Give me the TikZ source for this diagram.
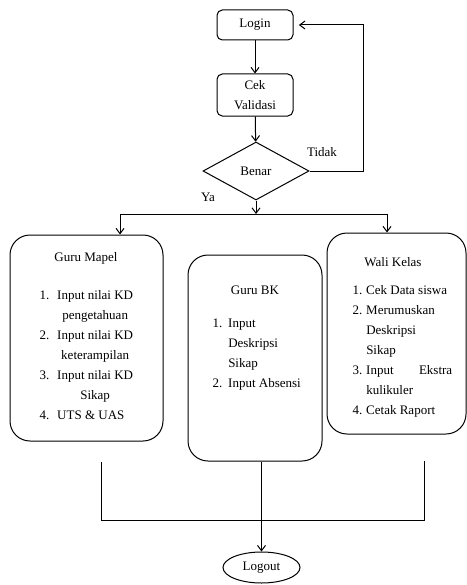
\documentclass[tikz,border=0pt]{standalone}
\usepackage{fontspec}
\setmainfont{Liberation Serif}
\usetikzlibrary{shapes.geometric,arrows.meta}

\tikzset{every picture/.style={line width=0.75pt}}
\tikzset{
  every node/.style={font=\fontsize{9.75}{15}\selectfont},
  flowbox/.style={draw, rounded corners=4pt, minimum width=57pt, minimum height=22.5pt, inner sep=0pt},
  rolebox/.style={draw, rounded corners=15pt, inner sep=0pt},
  listtext/.style={anchor=north west, inner sep=0pt},
  arr/.style={-{Straight Barb[length=4pt,width=6pt]}}
}

\begin{document}
\begin{tikzpicture}[x=0.75pt,y=0.75pt,yscale=-1,xscale=1]
\useasboundingbox (0,0) rectangle (467,585);

%Login and check
\node [flowbox] (login) at (255,25) {Login};
\node [flowbox, minimum height=31.5pt, align=center] (cek) at (255,95) {Cek\\Validasi};
\node [draw, diamond, aspect=1.83, minimum width=79.5pt, minimum height=43.5pt, inner sep=0pt] (benar) at (256,171) {Benar};

% Text Node
\node (tidak) at (322,152) {Tidak};
% Text Node
\node (ya) at (208,197) {Ya};

%Role boxes
\node [rolebox, minimum width=114.75pt, minimum height=154.5pt] (mapel) at (86.5,338) {};
\node [rolebox, minimum width=100.5pt, minimum height=154.5pt] (bk) at (255,358) {};
\node [rolebox, minimum width=104.25pt, minimum height=150.75pt] (wali) at (396.5,333.5) {};

% Text Node
\node (mapel title) at (86,258) {Guru Mapel};
\node [listtext] (mapel list) at (39,285) {\begin{tabular}{@{}l@{\hspace{6pt}}c@{}}
1. & Input nilai KD\\
   & pengetahuan\\
2. & Input nilai KD\\
   & keterampilan\\
3. & Input nilai KD\\
   & Sikap\\
4. & UTS \& UAS\hfill\null
\end{tabular}};

% Text Node
\node (bk title) at (255,290) {Guru BK};
\node [listtext] (bk list) at (212,313) {\begin{tabular}{@{}l@{\hspace{4.5pt}}l@{}}
1. & Input\\
   & Deskripsi\\
   & Sikap\\
2. & Input Absensi
\end{tabular}};

% Text Node
\node (wali title) at (393,262) {Wali Kelas};
\node [listtext] (wali list) at (352,280) {\begin{tabular}{@{}l@{\hspace{3pt}}p{64.5pt}@{}}
1. & Cek Data siswa\\
2. & Merumuskan\\
   & Deskripsi\\
   & Sikap\\
3. & Input \hfill Ekstra\\
   & kulikuler\\
4. & Cetak Raport
\end{tabular}};

%Logout
\node [draw, ellipse, minimum width=57.75pt, minimum height=23.25pt, inner sep=0pt] (logout) at (261.5,567.5) {Logout};

\coordinate (loop) at (363,171);
\coordinate (split) at (256,214);
\coordinate (splitL) at (120,214);
\coordinate (splitR) at (387,214);
\coordinate (joinL) at (101,462);
\coordinate (joinR) at (424,461);
\coordinate (mergeL) at (101,520);
\coordinate (mergeR) at (424,520);

%Connectors
\draw [arr] (login) -- (cek);
\draw [arr] (cek) -- (benar);
\draw [arr] (benar.east) -- (loop) |- ([xshift=4pt]login.east);
\draw [arr] (benar.south) -- (split);
\draw (splitL) -- (splitR);
\draw [arr] (splitL) -- (splitL |- mapel.north);
\draw [arr] (splitR) -- (splitR |- wali.north);
\draw (joinL) -- (mergeL) -- (mergeR) -- (joinR);
\draw [arr] (bk.south -| logout.north) -- (logout.north);

\end{tikzpicture}
\end{document}
